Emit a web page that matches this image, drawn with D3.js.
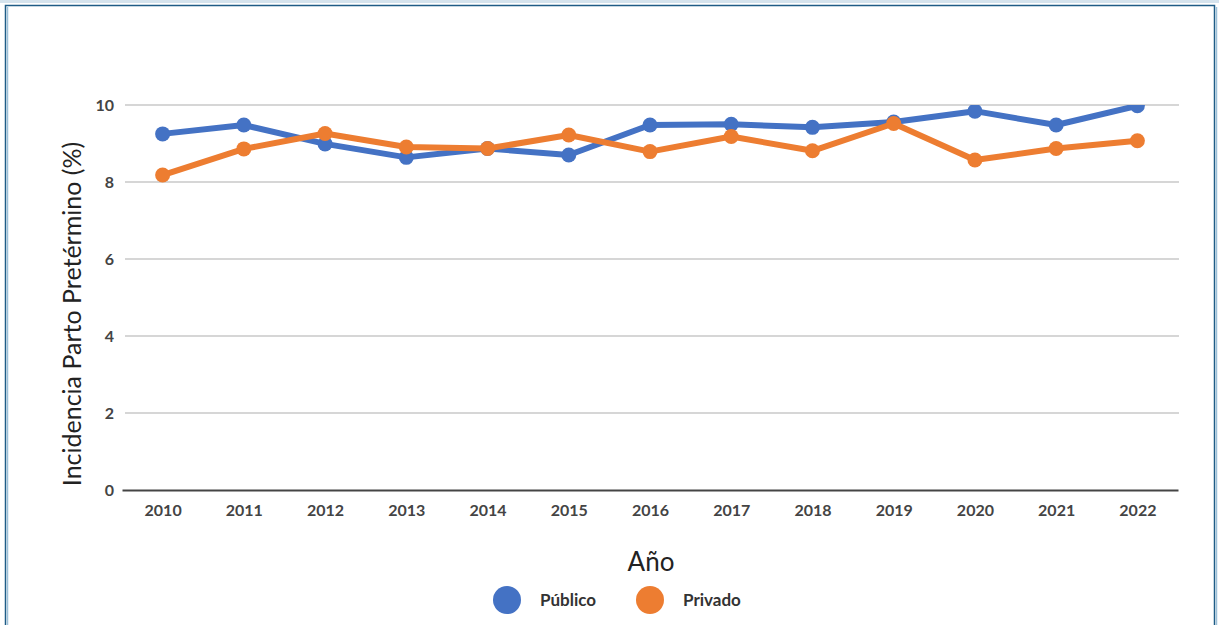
<!DOCTYPE html>
<html>
<head>
<meta charset="utf-8">
<script src="https://cdn.jsdelivr.net/npm/d3@7"></script>
<style>
  body { margin: 0; background: #fff; }
  #chart { width: 1219px; height: 625px; }
  .tick text { font-family: Lato, "Open Sans", sans-serif; }
</style>
</head>
<body>
<div id="chart"></div>
<script>
const years = ["2010","2011","2012","2013","2014","2015","2016","2017","2018","2019","2020","2021","2022"];
const publico = [9.25, 9.48, 8.99, 8.64, 8.87, 8.70, 9.48, 9.50, 9.42, 9.56, 9.84, 9.48, 9.98];
const privado = [8.18, 8.86, 9.26, 8.91, 8.87, 9.22, 8.79, 9.18, 8.81, 9.52, 8.57, 8.87, 9.07];
const yTicks = [0, 2, 4, 6, 8, 10];
const seriesNames = ["Público", "Privado"];
const colors = ["#4472c4", "#ed7d31"];

const W = 1219, H = 625;
const margin = {top: 105, right: 40, bottom: 135, left: 125};
const width = 1179 - margin.left;
const height = 490 - margin.top;

const svg = d3.select("#chart").append("svg")
    .attr("width", W)
    .attr("height", H);

// frame
svg.append("rect").attr("x", 0).attr("y", 0).attr("width", W).attr("height", 3).attr("fill", "#d5e3ed");
svg.append("rect")
    .attr("x", 5.5).attr("y", 5.5)
    .attr("width", 1209).attr("height", 640)
    .attr("fill", "#fff")
    .attr("stroke", "#1f5c86")
    .attr("stroke-width", 1.5);
svg.append("line").attr("x1", 7.5).attr("x2", 7.5).attr("y1", 7).attr("y2", H).attr("stroke", "#9cc0d8").attr("stroke-width", 1.5);
svg.append("line").attr("x1", 1216.5).attr("x2", 1216.5).attr("y1", 7).attr("y2", H).attr("stroke", "#9cc0d8").attr("stroke-width", 1.5);

const g = svg.append("g")
    .attr("transform", "translate(" + margin.left + "," + margin.top + ")");

const x = d3.scalePoint().domain(years).range([-3, width - 1]).padding(0.5);
const y = d3.scaleLinear().domain([0, 10]).range([height, 0]);

// gridlines
g.append("g")
    .attr("class", "grid")
    .selectAll("line")
    .data(yTicks.filter(d => d > 0))
    .enter().append("line")
    .attr("x1", 0).attr("x2", width)
    .attr("y1", d => y(d)).attr("y2", d => y(d))
    .attr("stroke", "#c8c8c8")
    .attr("stroke-width", 1.5);

// y axis
const yAxis = d3.axisLeft(y).tickValues(yTicks).tickSize(0).tickPadding(11);
g.append("g")
    .attr("class", "y axis")
    .call(yAxis)
    .call(s => s.select(".domain").remove())
    .selectAll("text")
    .attr("font-size", 16)
    .attr("font-weight", 700)
    .attr("fill", "#444");

// x axis
const xAxis = d3.axisBottom(x).tickSize(0).tickPadding(15);
const xg = g.append("g")
    .attr("class", "x axis")
    .attr("transform", "translate(0," + height + ")")
    .call(xAxis);
xg.select(".domain").attr("stroke", "#444").attr("stroke-width", 2);
xg.selectAll("text")
    .attr("font-size", 16)
    .attr("font-weight", 700)
    .attr("fill", "#444");

// clip to plot area
svg.append("defs").append("clipPath").attr("id", "plotclip")
    .append("rect").attr("x", -20).attr("y", 0).attr("width", width + 40).attr("height", height);

const plot = g.append("g").attr("clip-path", "url(#plotclip)");
const line = d3.line().x((d, i) => x(years[i])).y(d => y(d));

[publico, privado].forEach(function(vals, k) {
    plot.append("path")
        .datum(vals)
        .attr("fill", "none")
        .attr("stroke", colors[k])
        .attr("stroke-width", 6)
        .attr("stroke-linejoin", "round")
        .attr("d", line);
    plot.selectAll(".pt" + k)
        .data(vals)
        .enter().append("circle")
        .attr("class", "pt" + k)
        .attr("cx", (d, i) => x(years[i]))
        .attr("cy", d => y(d))
        .attr("r", 7.5)
        .attr("fill", colors[k]);
});

// axis titles
svg.append("text")
    .attr("transform", "translate(81,314) rotate(-90)")
    .attr("text-anchor", "middle")
    .attr("font-family", "Lato, 'Open Sans', sans-serif")
    .attr("font-size", 25)
    .attr("fill", "#222")
    .text("Incidencia Parto Pretérmino (%)");

svg.append("text")
    .attr("x", 651)
    .attr("y", 571)
    .attr("text-anchor", "middle")
    .attr("font-family", "Lato, 'Open Sans', sans-serif")
    .attr("font-size", 26)
    .attr("fill", "#222")
    .text("Año");

// legend
const legendX = [507, 650];
seriesNames.forEach(function(name, k) {
    svg.append("circle")
        .attr("cx", legendX[k]).attr("cy", 600).attr("r", 14)
        .attr("fill", colors[k]);
    svg.append("text")
        .attr("x", legendX[k] + 33)
        .attr("y", 606)
        .attr("font-family", "Lato, 'Open Sans', sans-serif")
        .attr("font-size", 17)
        .attr("font-weight", 700)
        .attr("fill", "#333")
        .text(name);
});
</script>
</body>
</html>
